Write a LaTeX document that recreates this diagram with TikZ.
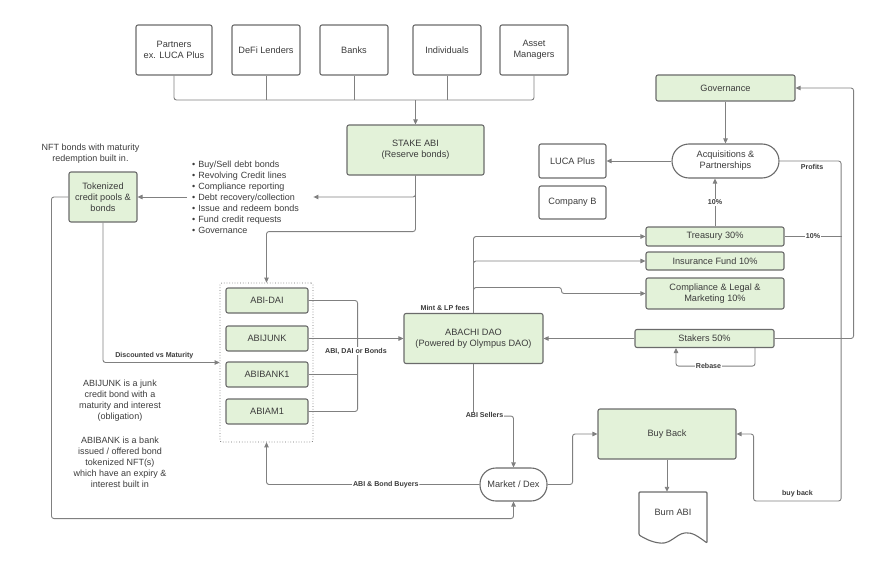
\documentclass[tikz,border=0pt]{standalone}
\usepackage{fontspec}
\setmainfont{Liberation Sans}
\usetikzlibrary{arrows.meta,calc}
\definecolor{gfill}{HTML}{E3F2D9}
\definecolor{bord}{HTML}{6B6B6B}
\definecolor{linec}{HTML}{808080}
\definecolor{txt}{HTML}{3C3C3C}
\begin{document}
\begin{tikzpicture}[x=1pt,y=-1pt,
  base/.style={draw=bord, line width=1.1pt, rounded corners=2pt, text=txt, font=\fontsize{9.2}{11}\selectfont, align=center, inner sep=0pt},
  wbox/.style={base, fill=white},
  gbox/.style={base, fill=gfill},
  pill/.style={wbox, rounded corners=16pt},
  conn/.style={draw=linec, line width=0.9pt, rounded corners=2.5pt},
  arr/.style={conn, -{Triangle[length=5pt,width=4.5pt]}},
  lbl/.style={font=\fontsize{7.1}{8}\selectfont\bfseries, text=txt, fill=white, inner sep=0.8pt},
  note/.style={text=txt, font=\fontsize{9}{11}\selectfont, align=center, inner sep=0pt}
]
\useasboundingbox (0,0) rectangle (896,575);

% top boxes
\node[wbox, minimum width=76pt, minimum height=50pt] (partners) at (174,50) {Partners\\ex. LUCA Plus};
\node[wbox, minimum width=68pt, minimum height=50pt] (defi) at (266,50) {DeFi Lenders};
\node[wbox, minimum width=68pt, minimum height=50pt] (banks) at (354,50) {Banks};
\node[wbox, minimum width=68pt, minimum height=50pt] (indiv) at (447,50) {Individuals};
\node[wbox, minimum width=68pt, minimum height=50pt] (assetm) at (534,50) {Asset\\Managers};
\coordinate (bus) at (415.5,100);

\node[gbox, minimum width=137pt, minimum height=50pt] (stake) at (415.5,150) {STAKE ABI\\(Reserve bonds)};

% left side
\node[note] (nftnote) at (90.5,153.5) {NFT bonds with maturity\\redemption built in.};
\node[gbox, minimum width=68pt, minimum height=50pt] (tok) at (103,197) {Tokenized\\credit pools \&\\bonds};
\node[text=txt, font=\fontsize{9}{11}\selectfont, align=left, text width=116pt, inner xsep=5pt, inner ysep=0pt, anchor=west] (bullets) at (187,197)
 {\textbullet\ Buy/Sell debt bonds\\
  \textbullet\ Revolving Credit lines\\
  \textbullet\ Compliance reporting\\
  \textbullet\ Debt recovery/collection\\
  \textbullet\ Issue and redeem bonds\\
  \textbullet\ Fund credit requests\\
  \textbullet\ Governance};

\node[note] (noteA) at (120,401) {ABIJUNK is a junk\\credit bond with a\\maturity and interest\\(obligation)};
\node[note] (noteB) at (120,462.5) {ABIBANK is a bank\\issued / offered bond\\tokenized NFT(s)\\which have an expiry \&\\interest built in};

% container
\node[draw=bord, dotted, line width=0.7pt, rounded corners=2pt, minimum width=93pt, minimum height=159pt, inner sep=0pt] (cont) at (266.5,362.5) {};
\node[gbox, minimum width=82pt, minimum height=25pt] (abidai) at (267,300.5) {ABI-DAI};
\node[gbox, minimum width=82pt, minimum height=25pt] (abijunk) at (267,338.5) {ABIJUNK};
\node[gbox, minimum width=82pt, minimum height=25pt] (abibank) at (267,374.5) {ABIBANK1};
\node[gbox, minimum width=82pt, minimum height=25pt] (abiam) at (267,411.5) {ABIAM1};

% center
\node[gbox, minimum width=139pt, minimum height=50pt] (abachi) at (473.5,338.5) {ABACHI DAO\\(Powered by Olympus DAO)};
\node[pill, minimum width=67pt, minimum height=33pt] (market) at (513.5,484.5) {Market / Dex};
\node[gbox, minimum width=138pt, minimum height=50pt] (bb) at (667,434) {Buy Back};
\node[minimum width=68pt, minimum height=40pt, inner sep=0pt, text=txt, font=\fontsize{9.2}{11}\selectfont] (burn) at (673,512) {Burn ABI};
\draw[draw=bord, line width=1.1pt, rounded corners=1pt] (639,492) -- (707,492) -- (707,543)
  .. controls (699,537) and (692,532) .. (685,533)
  .. controls (677,534) and (670,544) .. (660,543)
  .. controls (651,542) and (644,538) .. (639,535) -- cycle;

% right side
\node[gbox, minimum width=139pt, minimum height=26pt] (gov) at (725.5,88) {Governance};
\node[pill, minimum width=107pt, minimum height=34pt, rounded corners=17pt] (acq) at (725.5,161) {Acquisitions \&\\Partnerships};
\node[wbox, minimum width=67pt, minimum height=34pt] (luca) at (572.5,161) {LUCA Plus};
\node[wbox, minimum width=67pt, minimum height=33pt] (compb) at (572.5,202.5) {Company B};
\node[gbox, minimum width=138pt, minimum height=19pt] (treas) at (715,236.5) {Treasury 30\%};
\node[gbox, minimum width=138pt, minimum height=18pt] (insur) at (715,261) {Insurance Fund 10\%};
\node[gbox, minimum width=138pt, minimum height=31pt] (comp) at (715,293.5) {Compliance \& Legal \&\\Marketing 10\%};
\node[gbox, minimum width=139pt, minimum height=18pt] (stakers) at (704.5,338.5) {Stakers 50\%};

% connectors: top
\draw[conn] (partners.south) |- (bus);
\draw[conn] (assetm.south) |- (bus);
\draw[conn, rounded corners=0pt] (defi.south) -- (defi.south |- bus);
\draw[conn, rounded corners=0pt] (banks.south) -- (banks.south |- bus);
\draw[conn, rounded corners=0pt] (indiv.south) -- (indiv.south |- bus);
\draw[arr] (bus) -- (stake.north);

% stake to bullets / tokenized / container
\draw[arr] (stake.south) |- (bullets.east);
\draw[arr] (bullets.west) -- (tok.east);
\draw[arr] (stake.south) -- ++(0,56) -| (cont.north);
\draw[arr] (tok.south) |- (cont.west) node[lbl, pos=0.72, above=2pt] {Discounted vs Maturity};
\draw[arr] (tok.west) -- ++(-17,0) |- ($(market.south)+(0,17)$) -- (market.south);

% bracket
\draw[conn] (abidai.east) -- ++(49,0) |- (abiam.east);
\draw[conn] (abibank.east) -- ++(49,0);
\draw[arr] (abijunk.east) -- (abachi.west);
\node[lbl] at (356,351) {ABI, DAI or Bonds};

% abachi to funds
\draw[arr] (abachi.north) |- (treas.west);
\draw[arr] (abachi.north) |- (insur.west);
\draw[arr] (abachi.north) |- ($(comp.west)+(-84,-6)$) |- (comp.west);
\node[lbl, anchor=south east] at ($(abachi.north)+(-3,-1)$) {Mint \& LP fees};

% stakers
\draw[arr] (stakers.west) -- (abachi.east);
\draw[arr] ($(stakers.south)+(50.5,0)$) -- ++(0,18) -| ($(stakers.south)+(-28.5,0)$);
\node[lbl] at ($(stakers.south)+(4,18)$) {Rebase};
\draw[arr] (stakers.east) -| ($(gov.east)+(58,0)$) -- (gov.east);

% governance / acquisitions
\draw[arr] (gov.south) -- (acq.north);
\draw[arr] (acq.west) -- (luca.east);
\draw[arr] (treas.north) -- (treas.north |- acq.south) node[lbl, midway] {10\%};
\draw[arr] (acq.east) -| ($(bb.east)+(104.5,67)$) -| ($(bb.east)+(17,0)$) -- (bb.east);
\node[lbl] at ($(acq.east)+(32.5,5.5)$) {Profits};
\node[lbl] at (797.5,494) {buy back};
\draw[conn] (treas.east) -- ++(57,0) node[lbl, midway] {10\%};

% market
\draw[arr] (abachi.south) -- ++(0,52) -| (market.north);
\node[lbl] at (484.5,415) {ABI Sellers};
\draw[arr] (market.east) -- ++(25,0) |- (bb.west);
\draw[arr] (market.west) -| (cont.south) node[lbl, pos=0.22] {ABI \& Bond Buyers};
\draw[arr] (bb.south) -- (bb.south |- burn.north);
\end{tikzpicture}
\end{document}
